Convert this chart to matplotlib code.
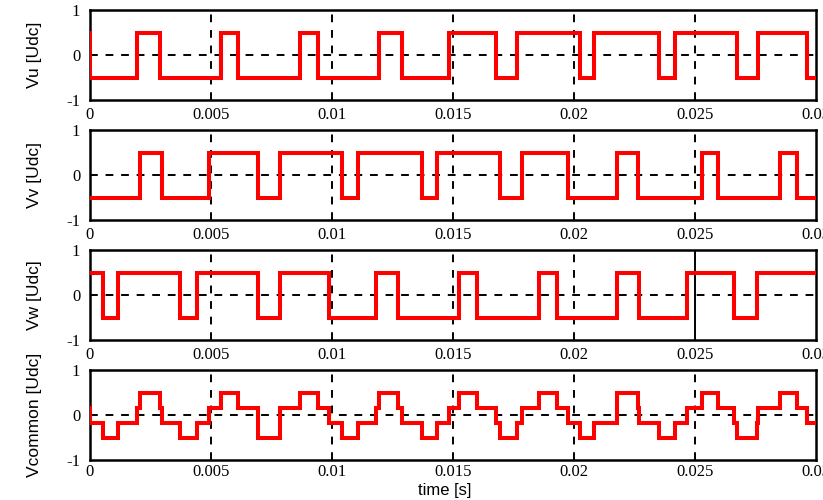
import numpy as np
import matplotlib
matplotlib.use("Agg")
import matplotlib.pyplot as plt

# switching instants in ms, level held from each instant to the next (steps-post)
vu_t = [0, 0.0, 1.93, 2.89, 5.41, 6.13, 8.68, 9.43, 11.96, 12.88, 14.85, 16.78,
        17.63, 20.25, 20.83, 23.53, 24.17, 26.72, 27.62, 29.64, 30]
vu_v = [0.5, -0.5, 0.5, -0.5, 0.5, -0.5, 0.5, -0.5, 0.5, -0.5, 0.5, -0.5,
        0.5, -0.5, 0.5, -0.5, 0.5, -0.5, 0.5, -0.5, -0.5]

vv_t = [0, 2.07, 2.99, 4.93, 6.96, 7.85, 10.40, 11.06, 13.71, 14.35, 16.94,
        17.84, 19.77, 21.76, 22.66, 25.28, 25.96, 28.51, 29.20, 30]
vv_v = [-0.5, 0.5, -0.5, 0.5, -0.5, 0.5, -0.5, 0.5, -0.5, 0.5, -0.5,
        0.5, -0.5, 0.5, -0.5, 0.5, -0.5, 0.5, -0.5, -0.5]

vw_t = [0, 0.52, 1.17, 3.72, 4.43, 6.96, 7.85, 9.89, 11.82, 12.74, 15.26,
        15.98, 18.57, 19.28, 21.76, 22.70, 24.66, 26.63, 27.55, 30]
vw_v = [0.5, -0.5, 0.5, -0.5, 0.5, -0.5, 0.5, -0.5, 0.5, -0.5, 0.5,
        -0.5, 0.5, -0.5, 0.5, -0.5, 0.5, -0.5, 0.5, 0.5]

h = 1 / 6
vc_t = [0, 0.0, 0.52, 1.17, 1.93, 2.07, 2.89, 2.99, 3.72, 4.43, 4.93, 5.41,
        6.13, 6.96, 7.85, 8.68, 9.43, 9.89, 10.40, 11.06, 11.82, 11.96, 12.74,
        12.88, 13.71, 14.35, 14.85, 15.26, 15.98, 16.78, 16.94, 17.63, 17.84,
        18.57, 19.28, 19.77, 20.25, 20.83, 21.76, 22.66, 22.70, 23.53, 24.17,
        24.66, 25.28, 25.96, 26.63, 26.72, 27.55, 27.62, 28.51, 29.20, 29.64, 30]
vc_v = [h, -h, -0.5, -h, h, 0.5, h, -h, -0.5, -h, h, 0.5,
        h, -0.5, h, 0.5, h, -h, -0.5, -h, h, 0.5, h,
        -h, -0.5, -h, h, 0.5, h, -h, -0.5, -h, h,
        0.5, h, -h, -0.5, -h, 0.5, h, -h, -0.5, -h,
        h, 0.5, h, -h, -0.5, -h, h, 0.5, h, -h, -h]

signals = [("Vu [Udc]", vu_t, vu_v), ("Vv [Udc]", vv_t, vv_v),
           ("Vw [Udc]", vw_t, vw_v), ("Vcommon [Udc]", vc_t, vc_v)]

xticks = [0, 0.005, 0.01, 0.015, 0.02, 0.025, 0.03]
xticklabels = ["0", "0.005", "0.01", "0.015", "0.02", "0.025", "0.03"]
grid_x = [0.005, 0.01, 0.015, 0.02, 0.025]

fig = plt.figure(figsize=(8.23, 5.0), dpi=100)
W, H = 823.0, 500.0
tops = [10, 130, 250, 370]

for i, (label, t, v) in enumerate(signals):
    top = tops[i]
    ax = fig.add_axes([90 / W, 1 - (top + 90) / H, 726 / W, 90 / H])
    ts = np.array(t) * 1e-3

    for gx in grid_x:
        # the Vw panel shows a solid line at 0.025
        ls = "-" if (i == 2 and gx == 0.025) else (0, (4, 4))
        ax.axvline(gx, color="black", lw=1.4, ls=ls, zorder=1)
    ax.axhline(0, color="black", lw=1.4, ls=(0, (4, 4)), zorder=1)

    ax.step(ts, v, where="post", color="#ff0000", lw=2.9, zorder=3,
            solid_joinstyle="miter")

    ax.set_xlim(0, 0.03)
    ax.set_ylim(-1, 1)
    ax.set_xticks(xticks)
    ax.set_xticklabels(xticklabels, family="Liberation Serif", fontsize=12)
    ax.set_yticks([-1, 0, 1])
    ax.set_yticklabels(["-1", "0", "1"], family="Liberation Serif", fontsize=12)
    ax.tick_params(axis="both", length=0)
    ax.tick_params(axis="x", pad=3 if i == 3 else 5)
    ax.tick_params(axis="y", pad=7)
    for sp in ax.spines.values():
        sp.set_linewidth(1.8)
        sp.set_color("black")
    ax.set_ylabel(label, family="Liberation Sans", fontsize=12.5)
    ax.yaxis.set_label_coords(-0.066, 0.5)

    if i == 3:
        ax.set_xlabel("time [s]", family="Liberation Sans", fontsize=12, labelpad=0)
        ax.xaxis.set_label_coords(0.489, -0.25)

fig.savefig("out.png", dpi=100)
